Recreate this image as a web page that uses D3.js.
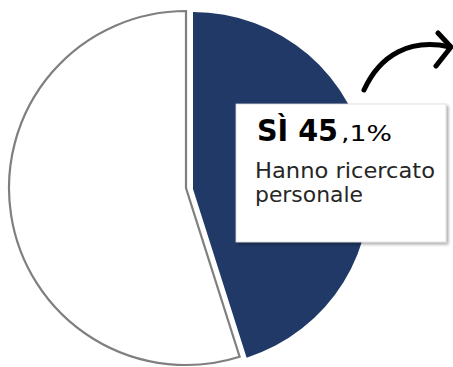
<!DOCTYPE html>
<html>
<head>
<meta charset="utf-8">
<script src="https://cdn.jsdelivr.net/npm/d3@7"></script>
<style>
  html, body { margin: 0; padding: 0; background: #fff; }
  svg { display: block; }
</style>
</head>
<body>
<div id="chart"></div>
<script>
// data
var categories = ["Sì", "No"];
var values = [45.1, 54.9];
var colors = ["#213966", "#ffffff"];
var labelMain = "SÌ 45";
var labelDec = ",1%";
var labelLines = ["Hanno ricercato", "personale"];

var width = 453, height = 367;
var radius = 177;

var svg = d3.select("#chart").append("svg")
    .attr("width", width)
    .attr("height", height);

var defs = svg.append("defs");
var f = defs.append("filter").attr("id", "shadow")
    .attr("x", "-10%").attr("y", "-10%").attr("width", "130%").attr("height", "130%");
f.append("feDropShadow")
    .attr("dx", 2).attr("dy", 2).attr("stdDeviation", 1.5)
    .attr("flood-color", "#000").attr("flood-opacity", 0.35);

var pie = d3.pie().sort(null).value(function(d) { return d; });
var arc = d3.arc().innerRadius(0).outerRadius(radius);
var arcs = pie(values);

// pie, dark slice pushed a bit to the right
var offsets = [[193, 189], [186, 188]];

svg.selectAll(".slice")
    .data(arcs)
    .enter().append("path")
    .attr("class", "slice")
    .attr("transform", function(d, i) { return "translate(" + offsets[i][0] + "," + offsets[i][1] + ")"; })
    .attr("d", arc)
    .attr("fill", function(d, i) { return colors[i]; })
    .attr("stroke", function(d, i) { return i == 1 ? "#7f7f7f" : "none"; })
    .attr("stroke-width", 2.2)
    .attr("stroke-linejoin", "miter");

// arrow
var p = d3.path();
p.moveTo(364, 90);
p.bezierCurveTo(380, 55, 410, 38, 450, 47);
svg.append("path")
    .attr("d", p.toString())
    .attr("fill", "none")
    .attr("stroke", "#000")
    .attr("stroke-width", 5)
    .attr("stroke-linecap", "round");
svg.append("path")
    .attr("d", "M438,33 L451,47 L436,66")
    .attr("fill", "none")
    .attr("stroke", "#000")
    .attr("stroke-width", 5)
    .attr("stroke-linecap", "round")
    .attr("stroke-linejoin", "round");

// label box
var box = svg.append("g");
box.append("rect")
    .attr("x", 236).attr("y", 104)
    .attr("width", 210).attr("height", 138)
    .attr("fill", "#fff")
    .attr("stroke", "#d9d9d9")
    .attr("stroke-width", 0.8)
    .attr("filter", "url(#shadow)");

var font = "'Century Gothic', 'DejaVu Sans', sans-serif";

box.append("text")
    .attr("x", 257).attr("y", 141)
    .attr("font-family", font)
    .attr("font-size", 30)
    .attr("font-weight", "bold")
    .attr("textLength", 81)
    .attr("lengthAdjust", "spacingAndGlyphs")
    .attr("fill", "#000")
    .text(labelMain);
box.append("text")
    .attr("x", 341).attr("y", 141)
    .attr("font-family", font)
    .attr("font-size", 22)
    .attr("textLength", 51)
    .attr("lengthAdjust", "spacingAndGlyphs")
    .attr("fill", "#000")
    .text(labelDec);

var subLen = [180, 108];
box.selectAll(".sub")
    .data(labelLines)
    .enter().append("text")
    .attr("class", "sub")
    .attr("x", 255)
    .attr("y", function(d, i) { return 178 + i * 23.5; })
    .attr("font-family", font)
    .attr("font-size", 21)
    .attr("textLength", function(d, i) { return subLen[i]; })
    .attr("lengthAdjust", "spacingAndGlyphs")
    .attr("fill", "#262626")
    .text(function(d) { return d; });
</script>
</body>
</html>
